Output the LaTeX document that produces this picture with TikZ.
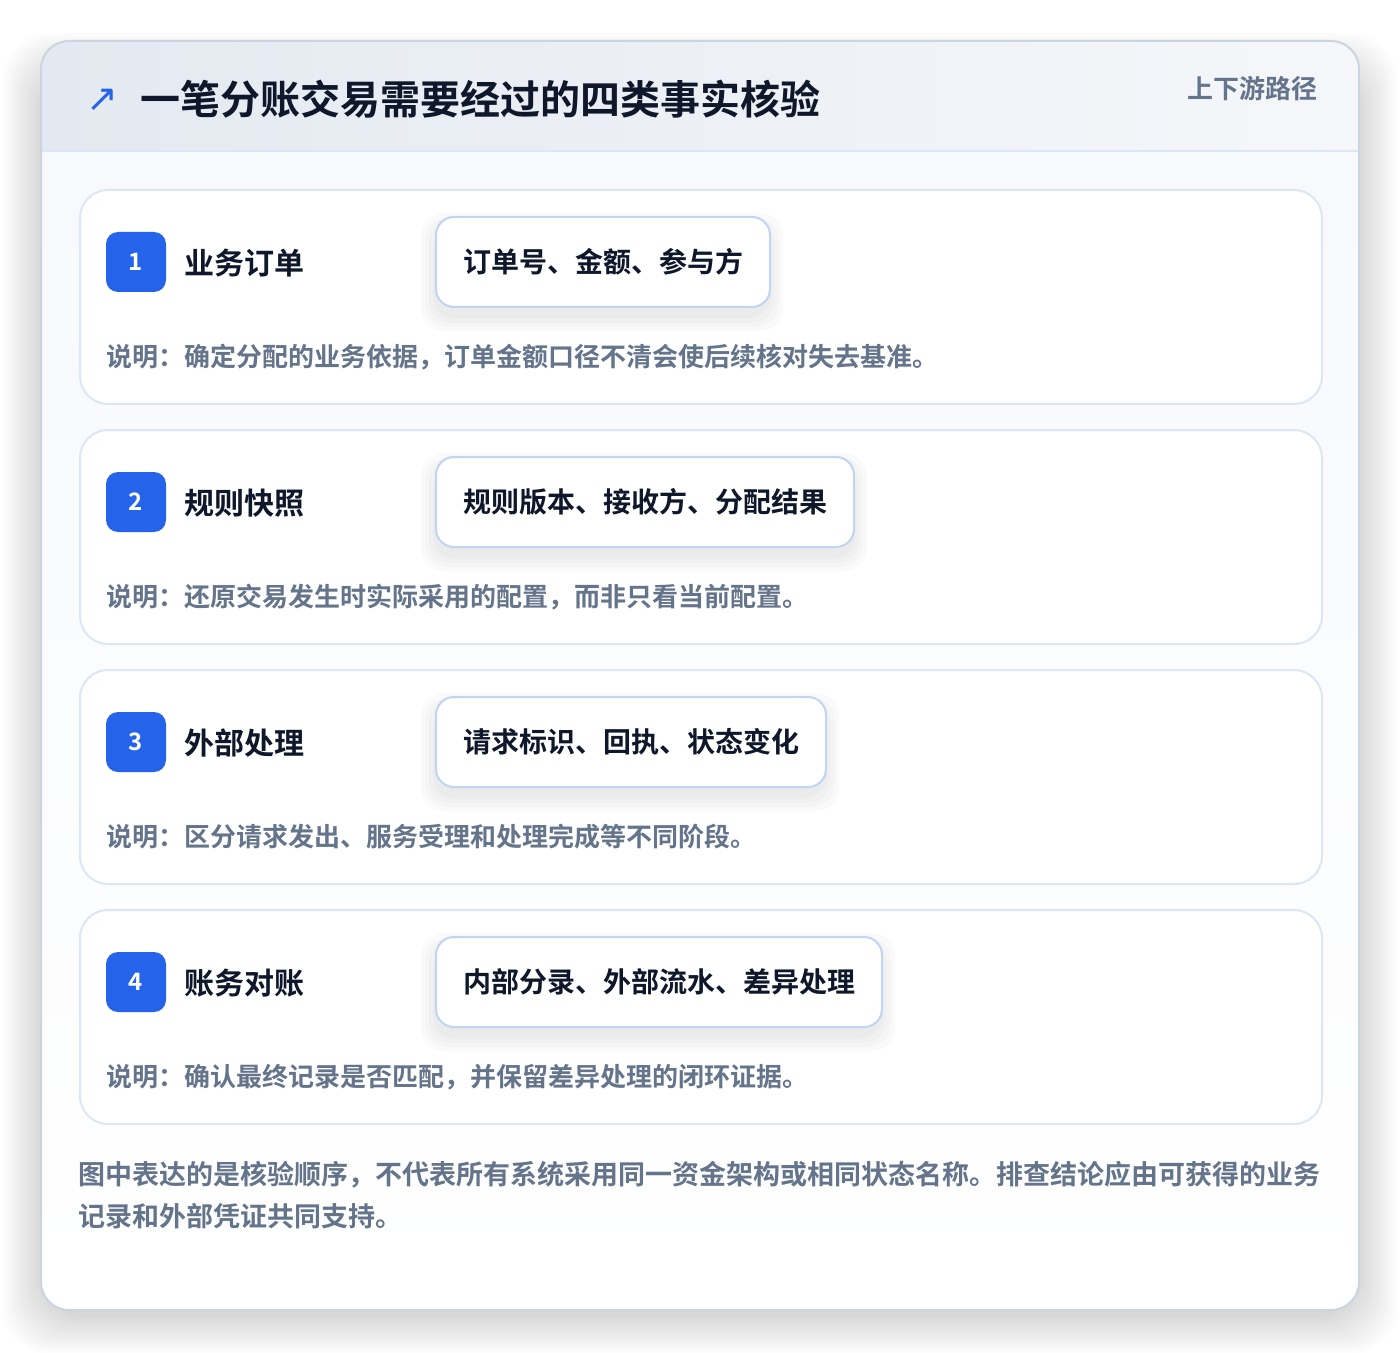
\documentclass[tikz,border=0pt]{standalone}
\usepackage{fontspec}
\setmainfont{Noto Sans CJK SC Bold}
\newfontfamily\symfont{DejaVu Sans}

\definecolor{accent}{HTML}{2563EB}
\definecolor{ink}{HTML}{0F172A}
\definecolor{muted}{HTML}{64748B}
\definecolor{cardline}{HTML}{DCE7F6}
\definecolor{tagline}{HTML}{BFD5F1}
\definecolor{outerline}{HTML}{CBD5E1}
\definecolor{headleft}{HTML}{E4E9F1}
\definecolor{headright}{HTML}{F5F7FA}
\definecolor{bodytop}{HTML}{F7F9FC}

\begin{document}
\begin{tikzpicture}[x=0.5pt,y=-0.5pt,
    card/.style={draw=cardline,line width=1pt,fill=white,rounded corners=14pt,
        minimum width=621pt,minimum height=107pt,anchor=north west,inner sep=0pt},
    badge/.style={fill=accent,text=white,rounded corners=6pt,minimum size=30pt,
        inner sep=0pt,font=\fontsize{12}{12}\selectfont},
    stepname/.style={anchor=west,inner sep=0pt,text=ink,font=\fontsize{15}{15}\selectfont},
    tag/.style={draw=tagline,line width=1pt,fill=white,rounded corners=9pt,anchor=west,
        minimum height=45pt,inner xsep=13.5pt,inner ysep=0pt,text=ink,
        font=\fontsize{14}{14}\selectfont},
    tagshadow/.style={fill=black,fill opacity=0.018,rounded corners=12pt},
    note/.style={anchor=west,inner sep=0pt,text=muted,font=\fontsize{13}{13}\selectfont}]
    \useasboundingbox (0,0) rectangle (1400,1352);
    \fill[white] (0,0) rectangle (1400,1352);
    %% outer panel shadow
    \foreach \s in {2,5,...,38}
        \fill[black,fill opacity=0.01,rounded corners=24pt] (41-\s,41-\s+30) rectangle (1359+\s,1310+\s+6);
    \path[fill=white,rounded corners=14pt] (41,41) rectangle (1359,1310);
    \begin{scope}
        \clip[rounded corners=14pt] (41,41) rectangle (1359,1310);
        \shade[top color=bodytop,bottom color=white] (41,151) rectangle (1359,1310);
        \shade[left color=headleft,right color=headright] (41,41) rectangle (1359,151);
    \end{scope}
    \draw[cardline,line width=1pt] (41,151) -- (1359,151);
    \draw[outerline,line width=1pt,rounded corners=14pt] (41,41) rectangle (1359,1310);
    %% header
    \node[text=accent,inner sep=0pt,font=\symfont\fontsize{19}{19}\selectfont] (icon) at (102,100) {↗};
    \node[anchor=west,inner sep=0pt,text=ink,font=\fontsize{20}{20}\selectfont] (title) at (140,99) {一笔分账交易需要经过的四类事实核验};
    \node[anchor=east,inner sep=0pt,text=muted,font=\fontsize{13}{13}\selectfont] (paths) at (1318,89) {上下游路径};
    %% card 1
    \node[card] (card1) at (79,189) {};
    \node[badge] (badge1) at (136,262) {1};
    \node[stepname] (name1) at (184,263) {业务订单};
    \foreach \s in {2,6,10,14} \fill[tagshadow] (435-\s,217-\s+10) rectangle (769+\s,307+\s+10);
    \node[tag] (tag1) at (435,262) {订单号、金额、参与方};
    \node[note] (note1) at (106,357) {说明：确定分配的业务依据，订单金额口径不清会使后续核对失去基准。};
    %% card 2
    \node[card] (card2) at (79,429) {};
    \node[badge] (badge2) at (136,502) {2};
    \node[stepname] (name2) at (184,503) {规则快照};
    \foreach \s in {2,6,10,14} \fill[tagshadow] (435-\s,457-\s+10) rectangle (853+\s,547+\s+10);
    \node[tag] (tag2) at (435,502) {规则版本、接收方、分配结果};
    \node[note] (note2) at (106,597) {说明：还原交易发生时实际采用的配置，而非只看当前配置。};
    %% card 3
    \node[card] (card3) at (79,669) {};
    \node[badge] (badge3) at (136,742) {3};
    \node[stepname] (name3) at (184,743) {外部处理};
    \foreach \s in {2,6,10,14} \fill[tagshadow] (435-\s,697-\s+10) rectangle (825+\s,787+\s+10);
    \node[tag] (tag3) at (435,742) {请求标识、回执、状态变化};
    \node[note] (note3) at (106,837) {说明：区分请求发出、服务受理和处理完成等不同阶段。};
    %% card 4
    \node[card] (card4) at (79,909) {};
    \node[badge] (badge4) at (136,982) {4};
    \node[stepname] (name4) at (184,983) {账务对账};
    \foreach \s in {2,6,10,14} \fill[tagshadow] (435-\s,937-\s+10) rectangle (881+\s,1027+\s+10);
    \node[tag] (tag4) at (435,982) {内部分录、外部流水、差异处理};
    \node[note] (note4) at (106,1077) {说明：确认最终记录是否匹配，并保留差异处理的闭环证据。};
    %% footer
    \node[anchor=north west,inner sep=0pt,align=left,text=muted,
        font=\fontsize{13.5}{21}\selectfont] (footer) at (78,1161)
        {图中表达的是核验顺序，不代表所有系统采用同一资金架构或相同状态名称。排查结论应由可获得的业务\\记录和外部凭证共同支持。};
\end{tikzpicture}
\end{document}
